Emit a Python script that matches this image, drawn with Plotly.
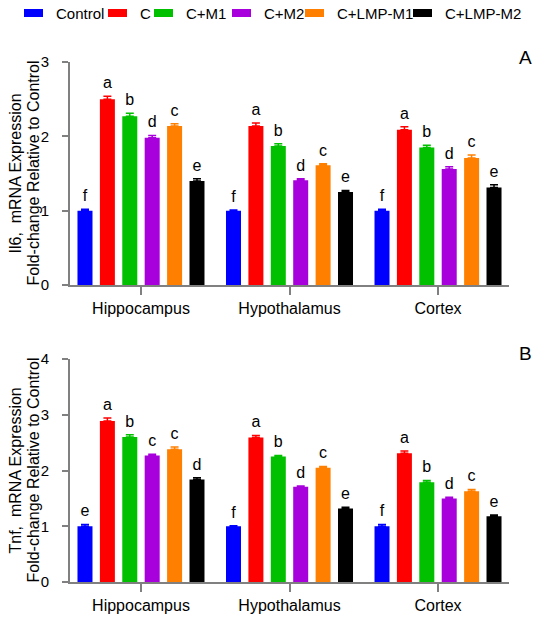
import plotly.graph_objects as go

W, H = 550, 617

regions = ["Hippocampus", "Hypothalamus", "Cortex"]
groups = ["Control", "C", "C+M1", "C+M2", "C+LMP-M1", "C+LMP-M2"]
colors = ["#0000FF", "#FF0000", "#00C000", "#A800DD", "#FF8000", "#000000"]

il6_ticks = [0, 1, 2, 3]
tnf_ticks = [0, 1, 2, 3, 4]

# Il6 (panel A), one list per group: Hippocampus, Hypothalamus, Cortex
il6_mean = {
    "Control": [1.00, 1.00, 1.00],
    "C": [2.50, 2.14, 2.09],
    "C+M1": [2.27, 1.87, 1.85],
    "C+M2": [1.98, 1.41, 1.56],
    "C+LMP-M1": [2.14, 1.61, 1.71],
    "C+LMP-M2": [1.40, 1.25, 1.31],
}
il6_err = {
    "Control": [0.02, 0.01, 0.02],
    "C": [0.04, 0.04, 0.04],
    "C+M1": [0.04, 0.03, 0.03],
    "C+M2": [0.03, 0.02, 0.03],
    "C+LMP-M1": [0.03, 0.02, 0.04],
    "C+LMP-M2": [0.03, 0.02, 0.04],
}
il6_letters = {
    "Control": ["f", "f", "f"],
    "C": ["a", "a", "a"],
    "C+M1": ["b", "b", "b"],
    "C+M2": ["d", "d", "d"],
    "C+LMP-M1": ["c", "c", "c"],
    "C+LMP-M2": ["e", "e", "e"],
}

# Tnf (panel B)
tnf_mean = {
    "Control": [1.00, 1.00, 1.00],
    "C": [2.89, 2.59, 2.31],
    "C+M1": [2.60, 2.25, 1.79],
    "C+M2": [2.27, 1.71, 1.50],
    "C+LMP-M1": [2.38, 2.05, 1.63],
    "C+LMP-M2": [1.84, 1.32, 1.18],
}
tnf_err = {
    "Control": [0.03, 0.01, 0.03],
    "C": [0.05, 0.04, 0.04],
    "C+M1": [0.04, 0.02, 0.03],
    "C+M2": [0.02, 0.01, 0.02],
    "C+LMP-M1": [0.04, 0.02, 0.03],
    "C+LMP-M2": [0.03, 0.02, 0.02],
}
tnf_letters = {
    "Control": ["e", "f", "f"],
    "C": ["a", "a", "a"],
    "C+M1": ["b", "b", "b"],
    "C+M2": ["c", "d", "d"],
    "C+LMP-M1": ["c", "c", "c"],
    "C+LMP-M2": ["d", "e", "e"],
}

FONT = "Arial, Liberation Sans, sans-serif"


def px(x):
    return x / W


def py(y):
    return 1 - y / H


fig = go.Figure()

panels = [
    (il6_mean, il6_err, il6_letters, "x", "y", "y3"),
    (tnf_mean, tnf_err, tnf_letters, "x2", "y2", "y4"),
]
for mean, err, letters, xa, ya, ylab in panels:
    for g, c in zip(groups, colors):
        fig.add_trace(go.Bar(
            x=regions, y=mean[g], name=g, marker_color=c, marker_line_width=0,
            offsetgroup=g, showlegend=False, xaxis=xa, yaxis=ya,
            error_y=dict(type="data", array=err[g], symmetric=False, arrayminus=[0] * 3,
                         color=c, thickness=1.5, width=4),
        ))
        # significance letters sit just above each error bar
        fig.add_trace(go.Scatter(
            x=regions, y=[m + e for m, e in zip(mean[g], err[g])],
            mode="markers+text", text=letters[g], textposition="top center",
            marker=dict(size=5, color="rgba(0,0,0,0)"),
            textfont=dict(size=16, color="black", family=FONT),
            offsetgroup=g, showlegend=False, xaxis=xa, yaxis=ya, hoverinfo="skip",
        ))
    # empty trace so the label-only overlay axis gets drawn
    fig.add_trace(go.Scatter(x=[regions[0]], y=[0], mode="markers",
                             marker=dict(color="rgba(0,0,0,0)"), showlegend=False,
                             hoverinfo="skip", xaxis=xa, yaxis=ylab))

axis_common = dict(showline=True, linecolor="#808080", linewidth=1.5, showgrid=False,
                   zeroline=False, ticks="outside", tickcolor="#808080", tickwidth=1.5,
                   automargin=False)
# overlay axis that only carries the y tick labels, set a bit further left
label_axis = dict(showline=False, showgrid=False, zeroline=False, ticks="outside",
                  ticklen=6, tickcolor="rgba(0,0,0,0)", tickfont=dict(size=15),
                  anchor="free", position=px(58), side="left", automargin=False)

fig.update_layout(
    width=W, height=H,
    margin=dict(l=0, r=0, t=0, b=0),
    paper_bgcolor="white", plot_bgcolor="white",
    font=dict(family=FONT, color="black"),
    barmode="group", bargap=0.095, bargroupgap=0.33,
    scattermode="group",
    xaxis=dict(domain=[px(70), px(509)], anchor="y", range=[-0.478, 2.478],
               ticklen=8, tickfont=dict(size=16), **axis_common),
    yaxis=dict(domain=[py(285), py(62)], anchor="x", range=[0, 3], tickvals=il6_ticks,
               showticklabels=False, ticklen=6, **axis_common),
    yaxis3=dict(overlaying="y", range=[0, 3], tickvals=il6_ticks, **label_axis),
    xaxis2=dict(domain=[px(70), px(509)], anchor="y2", range=[-0.478, 2.478],
                ticklen=8, tickfont=dict(size=16), **axis_common),
    yaxis2=dict(domain=[py(582), py(359)], anchor="x2", range=[0, 4], tickvals=tnf_ticks,
                showticklabels=False, ticklen=6, **axis_common),
    yaxis4=dict(overlaying="y2", range=[0, 4], tickvals=tnf_ticks, **label_axis),
    showlegend=False,
)

# y-axis titles, two lines each
titles = [("Il6,  mRNA Expression", "Fold-change Relative to Control", 173.5),
          ("Tnf,  mRNA Expression", "Fold-change Relative to Control", 470.5)]
for l1, l2, yc in titles:
    for txt, xc in [(l1, 15), (l2, 33)]:
        fig.add_annotation(text=txt, xref="paper", yref="paper", x=px(xc), y=py(yc),
                           xanchor="center", yanchor="middle", textangle=-90,
                           showarrow=False, font=dict(size=16))

# panel letters
for lab, yc in [("A", 57), ("B", 353)]:
    fig.add_annotation(text=lab, xref="paper", yref="paper", x=px(525), y=py(yc),
                       xanchor="center", yanchor="middle", showarrow=False,
                       font=dict(size=19))

# legend strip across the top
sw_left = [24, 108, 154, 232, 305, 413]
for g, c, x0 in zip(groups, colors, sw_left):
    fig.add_shape(type="rect", xref="paper", yref="paper",
                  x0=px(x0), x1=px(x0 + 19), y0=py(17), y1=py(9),
                  fillcolor=c, line_width=0)
    fig.add_annotation(text=g, xref="paper", yref="paper", x=px(x0 + 30), y=py(13),
                       xanchor="left", yanchor="middle", showarrow=False,
                       font=dict(size=15))

# drop the default page margin so the figure sits at the window's corner
fig.write_html("out.html", config={"displayModeBar": False},
               post_script="document.body.style.margin='0';document.body.style.overflow='hidden';")
